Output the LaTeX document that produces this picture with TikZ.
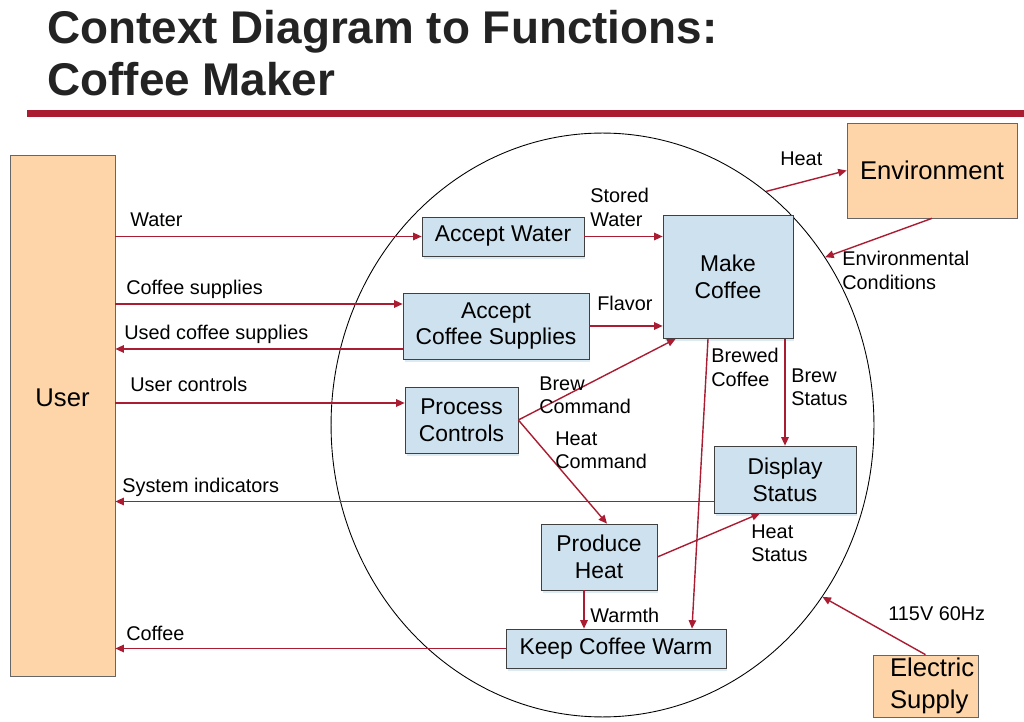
\documentclass[tikz,border=0pt]{standalone}
\usepackage{fontspec}
\setmainfont{Liberation Sans}
\usetikzlibrary{shapes.geometric,arrows.meta,shadows}

\definecolor{flowred}{RGB}{170,28,50}
\definecolor{funcblue}{RGB}{205,225,238}
\definecolor{extpeach}{RGB}{253,213,168}
\definecolor{titlegray}{RGB}{35,35,35}

\tikzset{
  func/.style={draw=black!75, fill=funcblue, align=center, inner sep=0pt,
    font=\fontsize{13}{15.3}\selectfont,
    drop shadow={fill=funcblue, opacity=0.7, shadow xshift=0.03cm, shadow yshift=-0.06cm}},
  ext/.style={draw=black!60, fill=extpeach, align=center, inner sep=0pt,
    font=\fontsize{14.6}{18.5}\selectfont},
  flow/.style={flowred, line width=0.8pt, -{Triangle[length=0.17cm,width=0.15cm]}},
  lbl/.style={anchor=north west, inner sep=0pt, align=left,
    font=\fontsize{11.3}{13.6}\selectfont},
  heading/.style={anchor=base west, inner sep=0pt, text=titlegray,
    font=\fontsize{26.1}{30}\bfseries\selectfont},
}

\begin{document}
\begin{tikzpicture}[x=0.02cm, y=-0.02cm]
\useasboundingbox (0,0) rectangle (1024,722);

% Title and rule
\node[heading] (title1) at (47,44) {Context Diagram to Functions:};
\node[heading] (title2) at (47,96) {Coffee Maker};
\fill[flowred] (27,110) rectangle (1024,117);

% System boundary
\node[draw, ellipse, minimum width=10.86cm, minimum height=11.68cm, inner sep=0pt, line width=0.5pt] (sys) at (602.5,425) {};

% External entities
\node[ext, minimum width=2.1cm, minimum height=10.42cm] (user) at (62.5,415.5) {};
\node[font=\fontsize{14.6}{18}\selectfont] at ([yshift=0.36cm]user.center) {User};
\node[ext, minimum width=3.4cm, minimum height=1.9cm] (env) at (932,170.5) {Environment};
\node[ext, minimum width=2.1cm, minimum height=1.24cm] (elec) at (925.5,686) {};
\node[anchor=west, inner sep=0pt, align=left, font=\fontsize{14.6}{18.5}\selectfont] at ([xshift=0.34cm]elec.west) {Electric\\Supply};

% Functions
\node[func, minimum width=3.24cm, minimum height=0.78cm] (water) at (503,236.5) {Accept Water};
\node[func, minimum width=2.6cm, minimum height=2.46cm] (make) at (728,277) {Make\\Coffee};
\node[func, minimum width=3.72cm, minimum height=1.32cm] (supplies) at (496,326) {Accept\\Coffee Supplies};
\node[func, minimum width=2.26cm, minimum height=1.32cm] (controls) at (461.5,420) {Process\\Controls};
\node[func, minimum width=2.84cm, minimum height=1.34cm] (display) at (785,479.5) {Display\\Status};
\node[func, minimum width=2.32cm, minimum height=1.32cm] (heat) at (599,557) {Produce\\Heat};
\node[func, minimum width=4.4cm, minimum height=0.78cm] (warm) at (616,648.5) {Keep Coffee Warm};

% Flows between user and functions
\coordinate (cs) at ([yshift=0.44cm]supplies.west);
\coordinate (us) at ([yshift=-0.46cm]supplies.west);
\coordinate (uc) at ([yshift=0.34cm]controls.west);
\coordinate (si) at ([yshift=-0.44cm]display.west);
\draw[flow] (user.east |- water.west) -- (water.west);
\draw[flow] (user.east |- cs) -- (cs);
\draw[flow] (us) -- (user.east |- us);
\draw[flow] (user.east |- uc) -- (uc);
\draw[flow] (si) -- (user.east |- si);
\draw[flow] (warm.west) -- (user.east |- warm.west);
\node[lbl] at (130,212) {Water};
\node[lbl] at (126,280) {Coffee supplies};
\node[lbl] at (124,325) {Used coffee supplies};
\node[lbl] at (130,377) {User controls};
\node[lbl] at (122,478) {System indicators};
\node[lbl] at (126,626) {Coffee};

% Internal flows
\coordinate (hw) at ([xshift=-0.3cm]heat.south);
\draw[flow] (water.east) -- (make.west |- water.east);
\draw[flow] (supplies.east) -- (make.west |- supplies.east);
\draw[flow] (controls.east) -- ([xshift=0.26cm]make.south west);
\draw[flow] (controls.east) -- ([xshift=0.16cm]heat.north);
\draw[flow] ([xshift=-0.4cm]make.south) -- ([xshift=1.52cm]warm.north);
\draw[flow] (display.north |- make.south) -- (display.north);
\draw[flow] (heat.east) -- ([xshift=-0.5cm]display.south);
\draw[flow] (hw) -- (hw |- warm.north);
\node[lbl] at (590,188) {Stored\\Water};
\node[lbl] at (597,296) {Flavor};
\node[lbl] at (539,376) {Brew\\Command};
\node[lbl] at (555,431) {Heat\\Command};
\node[lbl] at (711,348) {Brewed\\Coffee};
\node[lbl] at (791,368) {Brew\\Status};
\node[lbl] at (751,524) {Heat\\Status};
\node[lbl] at (590,608) {Warmth};

% Flows across the boundary
\draw[flow] (sys.55) -- (env.west);
\draw[flow] (env.south) -- (sys.37);
\draw[flow] (elec.north) -- (sys.-38);
\node[lbl] at (780,151) {Heat};
\node[lbl] at (842,251) {Environmental\\Conditions};
\node[lbl] at (888,606) {115V 60Hz};
\end{tikzpicture}
\end{document}
